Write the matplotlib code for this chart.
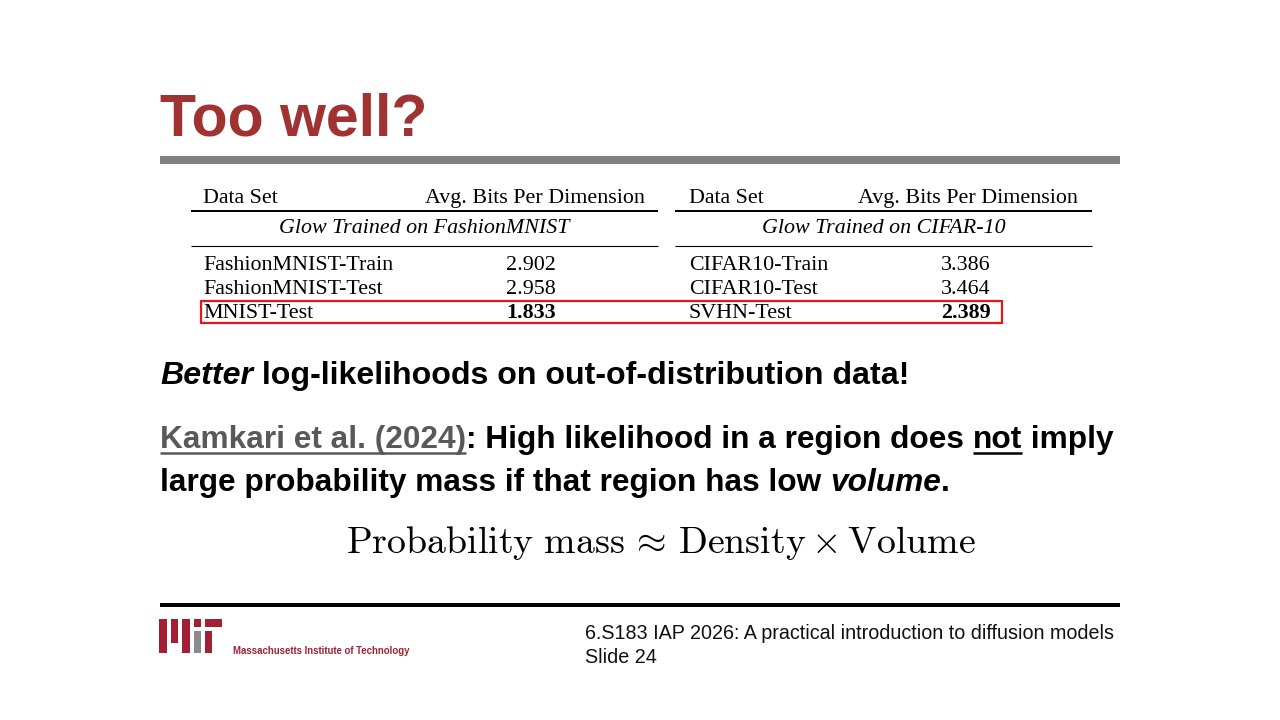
import matplotlib
matplotlib.use('Agg')
import matplotlib.pyplot as plt
from matplotlib.patches import Rectangle
from matplotlib.font_manager import FontProperties

plt.rcParams['mathtext.fontset'] = 'cm'

# ---------------- data ----------------
title = "Too well?"
col_headers = ["Data Set", "Avg. Bits Per Dimension"]
left_model = "Glow Trained on FashionMNIST"
left_sets = ["FashionMNIST-Train", "FashionMNIST-Test", "MNIST-Test"]
left_bpd = [2.902, 2.958, 1.833]
right_model = "Glow Trained on CIFAR-10"
right_sets = ["CIFAR10-Train", "CIFAR10-Test", "SVHN-Test"]
right_bpd = [3.386, 3.464, 2.389]
highlight_row = 2
line1 = [("Better", "italic", "black", False), (" log-likelihoods on out-of-distribution data!", "normal", "black", False)]
line2 = [("Kamkari et al. (2024)", "normal", "#595959", True), (": High likelihood in a region does ", "normal", "black", False),
         ("not", "normal", "black", True), (" imply", "normal", "black", False)]
line3 = [("large probability mass if that region has low ", "normal", "black", False), ("volume", "italic", "black", False),
         (".", "normal", "black", False)]
formula = r"$\mathrm{Probability\ mass}\,\approx\,\mathrm{Density}\times\mathrm{Volume}$"
footer1 = "6.S183 IAP 2026: A practical introduction to diffusion models"
footer2 = "Slide 24"
mit_name = "Massachusetts Institute of Technology"

SANS = 'Liberation Sans'
SERIF = 'Liberation Serif'
TITLE_RED = '#A03232'
MIT_RED = '#A31F34'
MIT_GRAY = '#8A8B8C'

W, H = 1280, 720
fig = plt.figure(figsize=(12.8, 7.2), dpi=100)
ax = fig.add_axes([0, 0, 1, 1])
ax.set_xlim(0, W)
ax.set_ylim(H, 0)
ax.axis('off')
renderer = fig.canvas.get_renderer()

def px(p):  # pixels -> points
    return p * 72.0 / 100.0

def adv(txt, fp):
    w1, _, _ = renderer.get_text_width_height_descent(txt + '|', fp, ismath=False)
    w2, _, _ = renderer.get_text_width_height_descent('|', fp, ismath=False)
    return w1 - w2

def draw_runs(x, y, runs, size, ul_off=4.5, ul_w=2.5):
    for txt, style, color, ul in runs:
        fp = FontProperties(family=SANS, weight='bold', style=style, size=size)
        ax.text(x, y, txt, fontproperties=fp, color=color, ha='left', va='baseline')
        w = adv(txt, fp)
        if ul:
            ax.plot([x, x + w], [y + ul_off, y + ul_off], color=color, lw=px(ul_w), solid_capstyle='butt')
        x += w

# ---------------- title ----------------
ax.text(160, 135, title, family=SANS, weight='bold', fontsize=42.5, color=TITLE_RED, ha='left', va='baseline')
ax.add_patch(Rectangle((160, 156), 960, 7.5, color='#808080', lw=0))

# ---------------- tables ----------------
def draw_table(x0, x1, name_x, hdr_right, val_cx, model, sets, vals):
    fs = 15.8
    ax.text(name_x, 203, col_headers[0], family=SERIF, fontsize=fs, ha='left', va='baseline')
    ax.text(hdr_right, 203, col_headers[1], family=SERIF, fontsize=fs, ha='right', va='baseline')
    ax.plot([x0, x1], [210.5, 210.5], color='black', lw=px(2), solid_capstyle='butt')
    ax.text((x0 + x1) / 2, 233, model, family=SERIF, style='italic', fontsize=fs, ha='center', va='baseline')
    ax.plot([x0, x1], [245.5, 245.5], color='black', lw=px(1.1), solid_capstyle='butt')
    ys = [270, 294, 318]
    for i, (s, v) in enumerate(zip(sets, vals)):
        ax.text(name_x, ys[i], s, family=SERIF, fontsize=fs, ha='left', va='baseline')
        ax.text(val_cx, ys[i], f"{v:.3f}", family=SERIF, fontsize=fs,
                weight='bold' if i == highlight_row else 'normal', ha='center', va='baseline')

draw_table(191, 658, 203, 645, 531, left_model, left_sets, left_bpd)
draw_table(675, 1092, 689, 1078, 966, right_model, right_sets, right_bpd)
ax.add_patch(Rectangle((200.5, 300.5), 801, 22.5, fill=False, edgecolor='#E8141B', lw=px(2.2)))

# ---------------- body text ----------------
draw_runs(160, 384, line1, 23.1)
draw_runs(160, 448, line2, 22.8)
draw_runs(160, 491, line3, 22.8)

ax.text(661, 553, formula, fontsize=27.3, ha='center', va='baseline')

# ---------------- footer ----------------
ax.plot([160, 1120], [604.5, 604.5], color='black', lw=px(4), solid_capstyle='butt')

# MIT logo bars
logo = [
    (159.0, 618.7, 8.0, 34.0, MIT_RED),
    (171.0, 618.7, 7.3, 24.6, MIT_RED),
    (182.3, 618.7, 7.4, 34.0, MIT_RED),
    (193.7, 618.7, 7.3, 8.0, MIT_RED),
    (193.7, 631.3, 7.3, 21.4, MIT_GRAY),
    (205.0, 618.7, 17.3, 8.0, MIT_RED),
    (205.0, 631.3, 7.3, 21.4, MIT_RED),
]
for lx, ly, lw_, lh, c in logo:
    ax.add_patch(Rectangle((lx, ly), lw_, lh, color=c, lw=0))
ax.text(233, 654, mit_name, family=SANS, weight='bold', fontsize=6.9, color=MIT_RED, ha='left', va='baseline')

ax.text(585, 639, footer1, family=SANS, fontsize=14.2, color='#111111', ha='left', va='baseline')
ax.text(585, 663, footer2, family=SANS, fontsize=14.2, color='#111111', ha='left', va='baseline')

fig.savefig('out.png', dpi=100, facecolor='white')
